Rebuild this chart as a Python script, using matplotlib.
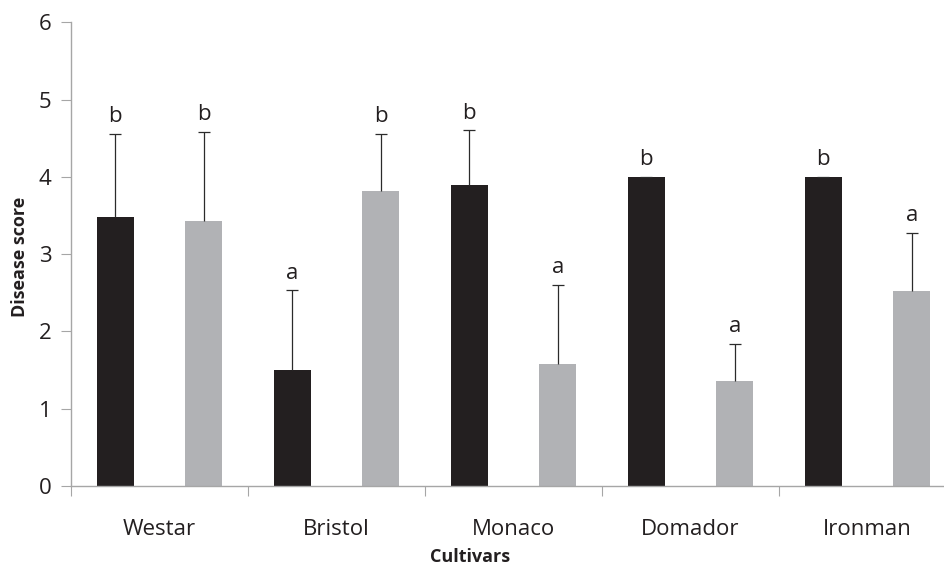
import numpy as np
import matplotlib.pyplot as plt

plt.rcParams['font.family'] = ['Open Sans', 'DejaVu Sans']

cultivars = ['Westar', 'Bristol', 'Monaco', 'Domador', 'Ironman']
# two series per cultivar: black bars and grey bars
black_mean = [3.48, 1.50, 3.90, 4.00, 4.00]
black_err = [1.07, 1.03, 0.70, 0.00, 0.00]
black_sig = ['b', 'a', 'b', 'b', 'b']
grey_mean = [3.43, 3.82, 1.58, 1.36, 2.52]
grey_err = [1.15, 0.74, 1.02, 0.48, 0.76]
grey_sig = ['b', 'b', 'a', 'a', 'a']
yticks = [0, 1, 2, 3, 4, 5, 6]

black_col = '#231f20'
grey_col = '#b1b2b5'
axis_col = '#a6a6a6'

fig = plt.figure(figsize=(9.44, 5.69), dpi=100)
ax = fig.add_axes([71 / 944, 83 / 569, 885 / 944, 463.7 / 569])

x = np.arange(len(cultivars)) + 0.5
w = 0.21
off = 0.25

ax.bar(x - off, black_mean, w, color=black_col, zorder=2)
ax.bar(x + off, grey_mean, w, color=grey_col, zorder=2)
for xs, m, e in [(x - off, black_mean, black_err), (x + off, grey_mean, grey_err)]:
    _, caps, _ = ax.errorbar(xs, m, yerr=[np.zeros(5), e], fmt='none',
                             ecolor='#2b2b2b', elinewidth=0.9, capsize=4,
                             capthick=0.9, zorder=3)
    caps[0].set_visible(False)  # only the upper cap

# significance letters above the error bars
for xi, m, e, s in zip(x - off, black_mean, black_err, black_sig):
    ax.annotate(s, (xi, m + e), xytext=(0, 5), textcoords='offset points',
                ha='center', va='bottom', fontsize=16, color='#231f20')
for xi, m, e, s in zip(x + off, grey_mean, grey_err, grey_sig):
    ax.annotate(s, (xi, m + e), xytext=(0, 5), textcoords='offset points',
                ha='center', va='bottom', fontsize=16, color='#231f20')

ax.set_xlim(0, 5)
ax.set_ylim(0, 6)
ax.set_yticks(yticks)
ax.tick_params(axis='y', direction='out', length=7, color=axis_col,
               labelsize=16, labelcolor='#231f20', pad=7)

# category boundary ticks and centred labels
ax.set_xticks(np.arange(0, 6))
ax.set_xticklabels([])
ax.set_xticks(x, minor=True)
ax.set_xticklabels(cultivars, minor=True)
ax.tick_params(axis='x', which='major', direction='out', length=7, color=axis_col)
ax.tick_params(axis='x', which='minor', length=0, labelsize=16,
               labelcolor='#231f20', pad=24)

for sp in ['top', 'right']:
    ax.spines[sp].set_visible(False)
for sp in ['left', 'bottom']:
    ax.spines[sp].set_color(axis_col)
    ax.spines[sp].set_linewidth(1.0)

fig.text(470 / 944, 1 - 557 / 569, 'Cultivars', ha='center', va='center',
         fontsize=13, fontweight='bold', color='#231f20')
fig.text(20 / 944, 1 - 257 / 569, 'Disease score', ha='center', va='center',
         rotation=90, fontsize=13, fontweight='bold', color='#231f20')

fig.savefig('out.png', dpi=100)
